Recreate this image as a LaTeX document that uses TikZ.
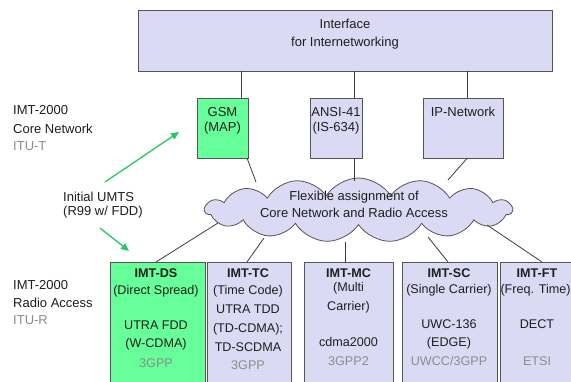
\documentclass[tikz,border=0pt]{standalone}
\usepackage{fontspec}
\setmainfont{Liberation Sans}
\usetikzlibrary{shapes.symbols,arrows.meta}
\definecolor{lav}{RGB}{218,218,245}
\definecolor{grn}{RGB}{102,255,153}
\definecolor{edgec}{RGB}{85,85,85}
\definecolor{wirec}{RGB}{60,60,60}
\definecolor{gtxt}{RGB}{140,140,140}
\definecolor{arrc}{RGB}{40,200,100}
\definecolor{ink}{RGB}{30,30,30}
\begin{document}
\begin{tikzpicture}[x=1pt,y=-1pt,
  box/.style={draw=edgec, line width=0.8pt, fill=lav, inner sep=0pt},
  gbox/.style={box, fill=grn},
  txt/.style={anchor=base, inner sep=0pt, text=ink, font=\fontsize{13}{15}\selectfont},
  btxt/.style={anchor=base, inner sep=0pt, text=ink, font=\fontsize{12.6}{15}\selectfont},
  bbold/.style={anchor=base, inner sep=0pt, text=ink, font=\fontsize{12.6}{15}\selectfont\bfseries},
  graytxt/.style={text=gtxt},
  lab/.style={txt, anchor=base west},
  wire/.style={draw=wirec, line width=0.8pt},
  garrow/.style={draw=arrc, line width=1.3pt, -{Triangle[length=8pt,width=7pt]}}]
\useasboundingbox (0,0) rectangle (571,381);
\clip (0,0) rectangle (571,381);
\fill[white] (0,0) rectangle (571,381);

% core layer
\node[box, minimum width=414pt, minimum height=61pt] (top) at (345,40.5) {};
\node[gbox, minimum width=51pt, minimum height=60pt] (gsm) at (222.5,128) {};
\node[box, minimum width=52pt, minimum height=60pt] (ansi) at (336,128) {};
\node[box, minimum width=80pt, minimum height=60pt] (ip) at (463,128) {};

% cloud
\node[cloud, cloud puffs=15, cloud puff arc=115, aspect=4.8, draw=edgec, line width=0.8pt, fill=lav,
      minimum width=307pt, minimum height=64pt, inner sep=0pt] (cloud) at (358.5,210) {};

% radio access boxes
\node[gbox, minimum width=95pt, minimum height=128pt] (ds) at (157.5,326) {};
\node[box, minimum width=84pt, minimum height=128pt] (tc) at (249,326) {};
\node[box, minimum width=89pt, minimum height=128pt] (mc) at (348.5,326) {};
\node[box, minimum width=95pt, minimum height=128pt] (sc) at (449.5,326) {};
\node[box, minimum width=85pt, minimum height=128pt] (ft) at (542.5,326) {};

% connector coordinates
\coordinate (v1) at (241,0);
\coordinate (v2) at (354,0);
\coordinate (v3) at (467,0);
\coordinate (gsmout) at (247,158);
\coordinate (cgsm) at (256,182);
\coordinate (cansi) at (354,181);
\coordinate (cip) at (448,180);
\coordinate (cds) at (218,223);
\coordinate (ctc) at (264,238);
\coordinate (cmc) at (345,242);
\coordinate (csc) at (428,237);
\coordinate (cft) at (487,225);
\coordinate (dsin) at (156,262);
\coordinate (tcin) at (247,262);
\coordinate (mcin) at (345,262);
\coordinate (scin) at (448,262);
\coordinate (ftin) at (542,262);

\draw[wire] (top.south -| v1) -- (gsm.north -| v1);
\draw[wire] (top.south -| v2) -- (ansi.north -| v2);
\draw[wire] (top.south -| v3) -- (ip.north -| v3);
\draw[wire] (gsmout) -- (cgsm);
\draw[wire] (ansi.south -| v2) -- (cansi);
\draw[wire] (ip.south -| v3) -- (cip);
\draw[wire] (cds) -- (dsin);
\draw[wire] (ctc) -- (tcin);
\draw[wire] (cmc) -- (mcin);
\draw[wire] (csc) -- (scin);
\draw[wire] (cft) -- (ftin);

% texts in core layer
\node[txt] (t1) at (345,28.5) {Interface};
\node[txt] (t2) at (345,46.5) {for Internetworking};
\node[txt] (t3) at (222.5,116.5) {GSM};
\node[txt] (t4) at (222.5,131.5) {(MAP)};
\node[txt] (t5) at (336,116.5) {ANSI-41};
\node[txt] (t6) at (336,131.5) {(IS-634)};
\node[txt] (t7) at (463,116.5) {IP-Network};
\node[txt] (t8) at (354,200.5) {Flexible assignment of};
\node[txt] (t9) at (354,217.5) {Core Network and Radio Access};

% left labels
\node[lab] (l1) at (13,114.5) {IMT-2000};
\node[lab] (l2) at (13,133.5) {Core Network};
\node[lab, graytxt] (l3) at (13,150.5) {ITU-T};
\node[lab] (l4) at (63,201.5) {Initial UMTS};
\node[lab] (l5) at (63,215.5) {(R99 w/ FDD)};
\node[lab] (l6) at (13,289.5) {IMT-2000};
\node[lab] (l7) at (13,307.5) {Radio Access};
\node[lab, graytxt] (l8) at (13,324.5) {ITU-R};

\coordinate (a1s) at (105,182);
\coordinate (a1e) at (179,132);
\coordinate (a2s) at (100,228);
\coordinate (a2e) at (129,251);
\draw[garrow] (a1s) -- (a1e);
\draw[garrow] (a2s) -- (a2e);

% radio access texts
\node[bbold] (d1) at (156,277.5) {IMT-DS};
\node[btxt] (d2) at (156,294.5) {(Direct Spread)};
\node[btxt] (d3) at (156,329.5) {UTRA FDD};
\node[btxt] (d4) at (156,347.5) {(W-CDMA)};
\node[btxt, graytxt] (d5) at (156,367.5) {3GPP};

\node[bbold] (e1) at (248,277.5) {IMT-TC};
\node[btxt] (e2) at (248,294.5) {(Time Code)};
\node[btxt] (e3) at (248,313.5) {UTRA TDD};
\node[btxt] (e4) at (248,332.5) {(TD-CDMA);};
\node[btxt] (e5) at (248,351.5) {TD-SCDMA};
\node[btxt, graytxt] (e6) at (248,369.5) {3GPP};

\node[bbold] (f1) at (348.5,277.5) {IMT-MC};
\node[btxt] (f2) at (348.5,291.5) {(Multi};
\node[btxt] (f3) at (348.5,310.5) {Carrier)};
\node[btxt] (f4) at (348.5,346.5) {cdma2000};
\node[btxt, graytxt] (f5) at (348.5,365.5) {3GPP2};

\node[bbold] (g1) at (449,277.5) {IMT-SC};
\node[btxt] (g2) at (449,293.5) {(Single Carrier)};
\node[btxt] (g3) at (449,328.5) {UWC-136};
\node[btxt] (g4) at (449,346.5) {(EDGE)};
\node[btxt, graytxt] (g5) at (449,365.5) {UWCC/3GPP};

\node[bbold] (h1) at (537,277.5) {IMT-FT};
\node[btxt] (h2) at (535.5,293.5) {(Freq. Time)};
\node[btxt] (h3) at (537,328.5) {DECT};
\node[btxt, graytxt] (h4) at (537,365.5) {ETSI};
\end{tikzpicture}
\end{document}
